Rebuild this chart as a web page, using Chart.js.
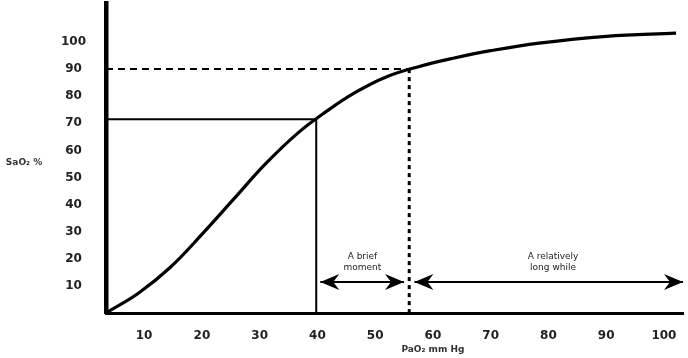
<!DOCTYPE html>
<html>
<head>
<meta charset="utf-8">
<script src="https://cdn.jsdelivr.net/npm/chart.js@4.4.1/dist/chart.umd.min.js"></script>
<style>
  html, body { margin: 0; padding: 0; background: #fff; }
  #wrap { width: 688px; height: 358px; position: relative; }
</style>
</head>
<body>
<div id="wrap"><canvas id="c"></canvas></div>
<script>
// ---- data ----
const curvePaO2 = [3.4, 9, 14.5, 20, 25.5, 31, 36.5, 41.5, 46.5, 51.9, 57.5, 63.5, 70, 78.4, 90, 102.1];
const curveSaO2 = [0, 7.3, 16.8, 29.0, 42.0, 55.0, 66.2, 74.3, 81.3, 87.1, 90.9, 94.0, 96.8, 99.6, 102.1, 103.3];
const xTicks = [10, 20, 30, 40, 50, 60, 70, 80, 90, 100];
const yTicks = [10, 20, 30, 40, 50, 60, 70, 80, 90, 100];
const xRange = [3.4, 103.3];
const yRange = [0, 114.4];
const solidRefX = [3.4, 39.8, 39.8];
const solidRefY = [71.5, 71.5, 0];
const dashRefX = [3.4, 55.9];
const dashRefY = [90, 90];
const dotRefX = [55.9, 55.9];
const dotRefY = [90, 0];
const arrowBriefX = [40.5, 55.0];
const arrowLongX = [56.8, 103.3];
const arrowY = 11.4;
const notes = [
  { x: 47.8, y: 20.9, lines: ['A brief', 'moment'] },
  { x: 80.8, y: 20.9, lines: ['A relatively', 'long while'] }
];
const xTitle = 'PaO\u2082 mm Hg';
const yTitle = 'SaO\u2082 %';
const xTitlePos = 60;
const yTitlePos = 55.3;

const pts = (xs, ys) => xs.map((x, i) => ({ x: x, y: ys[i] }));

// arrowhead + annotation plugin
const extras = {
  id: 'extras',
  afterDatasetsDraw(chart) {
    const ctx = chart.ctx;
    const xs = chart.scales.x, ys = chart.scales.y;
    chart.data.datasets.forEach((ds, i) => {
      if (!ds.arrow) return;
      const meta = chart.getDatasetMeta(i);
      const p0 = meta.data[0], p1 = meta.data[meta.data.length - 1];
      [[p0, -1], [p1, 1]].forEach(([p, dir]) => {
        const tx = p.x, ty = p.y;
        ctx.save();
        ctx.fillStyle = '#000';
        ctx.beginPath();
        ctx.moveTo(tx, ty);
        ctx.lineTo(tx - dir * 19, ty - 8);
        ctx.lineTo(tx - dir * 13, ty);
        ctx.lineTo(tx - dir * 19, ty + 8);
        ctx.closePath();
        ctx.fill();
        ctx.restore();
      });
    });
    ctx.save();
    ctx.fillStyle = '#222';
    ctx.font = '9px "DejaVu Sans"';
    ctx.textAlign = 'center';
    ctx.textBaseline = 'middle';
    notes.forEach(n => {
      const px = xs.getPixelForValue(n.x), py = ys.getPixelForValue(n.y);
      n.lines.forEach((l, k) => ctx.fillText(l, px, py + k * 11.5));
    });
    ctx.font = 'bold 9px "DejaVu Sans"';
    ctx.fillStyle = '#333';
    ctx.fillText(xTitle, xs.getPixelForValue(xTitlePos), 350);
    ctx.fillText(yTitle, 24, ys.getPixelForValue(yTitlePos));
    ctx.restore();
  }
};

const lineDs = (data, extra) => Object.assign({
  data: data, showLine: true, pointRadius: 0, borderColor: '#000', fill: false, tension: 0
}, extra);

new Chart(document.getElementById('c'), {
  type: 'scatter',
  data: {
    datasets: [
      lineDs(pts(solidRefX, solidRefY), { borderWidth: 2 }),
      lineDs(pts(dashRefX, dashRefY), { borderWidth: 2, borderDash: [7, 5] }),
      lineDs(pts(dotRefX, dotRefY), { borderWidth: 3, borderDash: [4, 4] }),
      lineDs(pts(arrowBriefX, [arrowY, arrowY]), { borderWidth: 2, arrow: true }),
      lineDs(pts(arrowLongX, [arrowY, arrowY]), { borderWidth: 2, arrow: true }),
      lineDs(pts(curvePaO2, curveSaO2), { borderWidth: 3.2, tension: 0.4 })
    ]
  },
  options: {
    responsive: true,
    maintainAspectRatio: false,
    animation: false,
    layout: { padding: { left: 0, right: 5, top: 3, bottom: 0 } },
    plugins: { legend: { display: false }, tooltip: { enabled: false } },
    scales: {
      x: {
        type: 'linear', min: xRange[0], max: xRange[1],
        grid: { display: false, drawTicks: false },
        border: { display: true, color: '#000', width: 3 },
        afterBuildTicks: s => { s.ticks = xTicks.map(v => ({ value: v })); },
        afterFit: s => { s.height = 45; s.paddingLeft = 0; s.paddingRight = 0; },
        ticks: { color: '#222', padding: 16, maxRotation: 0, autoSkip: false,
          font: { family: '"DejaVu Sans"', size: 12, weight: 'bold' } }
      },
      y: {
        type: 'linear', min: yRange[0], max: yRange[1],
        grid: { display: false, drawTicks: false },
        border: { display: true, color: '#000', width: 4.5 },
        afterBuildTicks: s => { s.ticks = yTicks.map(v => ({ value: v })); },
        afterFit: s => { s.width = 106; s.paddingTop = 0; s.paddingBottom = 0; },
        ticks: { color: '#222', padding: 20, crossAlign: 'center', autoSkip: false,
          font: { family: '"DejaVu Sans"', size: 12, weight: 'bold' } }
      }
    }
  },
  plugins: [extras]
});
</script>
</body>
</html>
